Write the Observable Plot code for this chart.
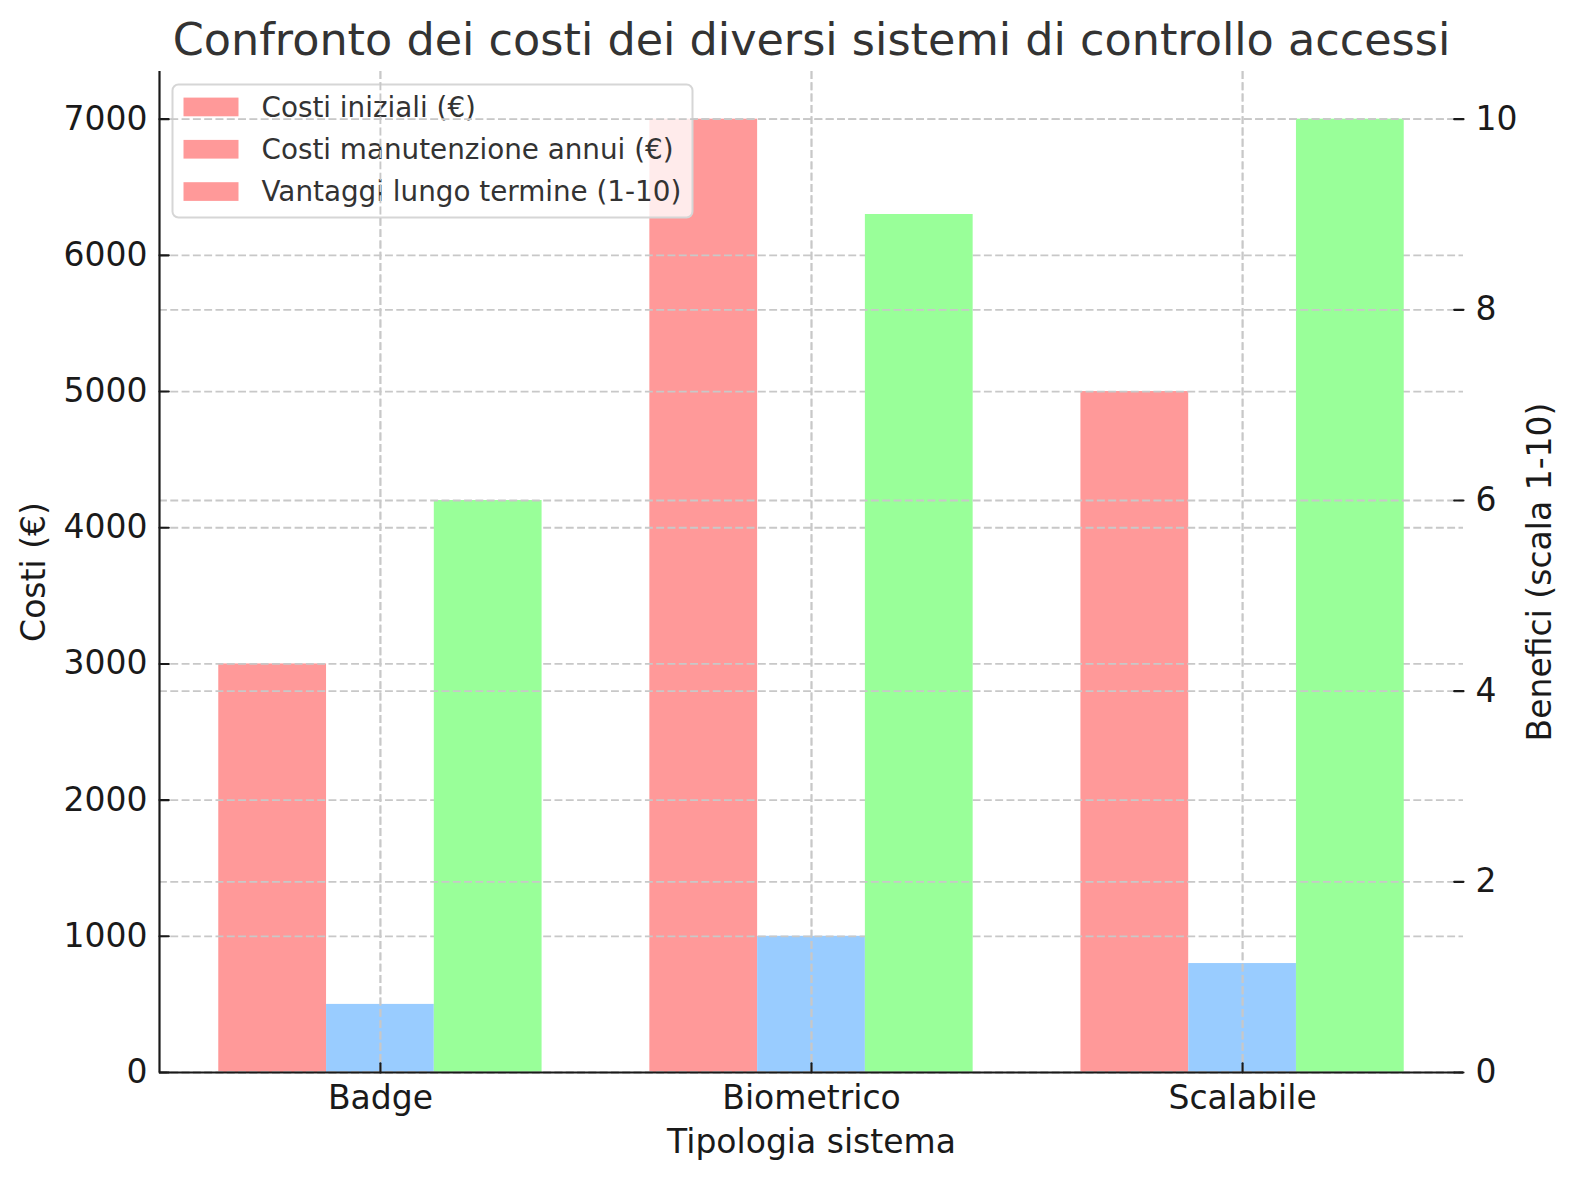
<!DOCTYPE html>
<html>
<head>
<meta charset="utf-8">
<script src="https://cdn.jsdelivr.net/npm/d3@7"></script>
<script src="https://cdn.jsdelivr.net/npm/@observablehq/plot@0.6"></script>
<style>
  body { margin: 0; background: #ffffff; }
  #chart svg { display: block; }
</style>
</head>
<body>
<div id="chart"></div>
<script>
// ---- Data ----
const categories = ["Badge", "Biometrico", "Scalabile"];
const costiIniziali = [3000, 7000, 5000];
const costiManutenzione = [500, 1000, 800];
const vantaggi = [6, 9, 10];
const seriesLabels = ["Costi iniziali (€)", "Costi manutenzione annui (€)", "Vantaggi lungo termine (1-10)"];
const seriesColors = ["#ff9999", "#99ccff", "#99ff99"];
const legendColors = ["#ff9999", "#ff9999", "#ff9999"];
const leftTicks = [0, 1000, 2000, 3000, 4000, 5000, 6000, 7000];
const rightTicks = [0, 2, 4, 6, 8, 10];
const titleText = "Confronto dei costi dei diversi sistemi di controllo accessi";
const xLabel = "Tipologia sistema";
const yLabelLeft = "Costi (€)";
const yLabelRight = "Benefici (scala 1-10)";

// ---- Scales setup ----
const leftMax = 7350;      // 7000 * 1.05
const rightMax = 10.5;     // 10 * 1.05
const k = leftMax / rightMax;
const barWidth = 0.25;
const offsets = [-barWidth, 0, barWidth];
const xDomain = [-0.5125, 2.5125];

function rowsFor(values, s, factor = 1) {
  return values.map((v, i) => ({
    cat: categories[i],
    x1: i + offsets[s] - barWidth / 2,
    x2: i + offsets[s] + barWidth / 2,
    v: v * factor
  }));
}
const redRows = rowsFor(costiIniziali, 0);
const blueRows = rowsFor(costiManutenzione, 1);
const greenRows = rowsFor(vantaggi, 2, k);

const gridStyle = {stroke: "#c8c8c8", strokeOpacity: 1, strokeWidth: 1.8, strokeDasharray: "7.9,3.4"};
const tickShape = {draw(ctx, l) { ctx.moveTo(0, 0); ctx.lineTo(0, -l); }};
const tickStyle = {length: 9.3, anchor: "start", shape: tickShape, stroke: "#1a1a1a", strokeWidth: 2.1};
const textColor = "#1a1a1a";
const fs = 33;

function legendMark(index, scales, values, dims) {
  const g = d3.create("svg:g").attr("text-anchor", "start");
  const x0 = dims.marginLeft + 13.5;
  const y0 = dims.marginTop + 13.5;
  g.append("rect")
    .attr("x", x0).attr("y", y0)
    .attr("width", 520).attr("height", 133)
    .attr("rx", 6).attr("ry", 6)
    .attr("fill", "#ffffff").attr("fill-opacity", 0.8)
    .attr("stroke", "#d6d6d6").attr("stroke-width", 2);
  seriesLabels.forEach((lab, i) => {
    const cy = y0 + 22.5 + i * 42.3;
    g.append("rect")
      .attr("x", x0 + 11).attr("y", cy - 9.4)
      .attr("width", 55).attr("height", 18.7)
      .attr("fill", legendColors[i]);
    g.append("text")
      .attr("x", x0 + 89).attr("y", cy).attr("dy", "0.35em")
      .attr("text-anchor", "start")
      .attr("font-size", 27.8).attr("fill", "#333333")
      .attr("font-family", "DejaVu Sans")
      .text(lab);
  });
  return g.node();
}

const chart = Plot.plot({
  width: 1580,
  height: 1180,
  marginLeft: 159,
  marginRight: 117,
  marginTop: 71,
  marginBottom: 108,
  style: {fontFamily: "DejaVu Sans", background: "#ffffff", color: textColor},
  x: {type: "linear", domain: xDomain, axis: null},
  y: {type: "linear", domain: [0, leftMax], axis: null},
  marks: [
    Plot.rect(redRows, {x1: "x1", x2: "x2", y1: () => 0, y2: "v", fill: seriesColors[0]}),
    Plot.rect(blueRows, {x1: "x1", x2: "x2", y1: () => 0, y2: "v", fill: seriesColors[1]}),
    Plot.gridY(leftTicks, gridStyle),
    Plot.gridX([0, 1, 2], gridStyle),
    legendMark,
    Plot.rect(greenRows, {x1: "x1", x2: "x2", y1: () => 0, y2: "v", fill: seriesColors[2]}),
    Plot.gridY(rightTicks.map(d => d * k), gridStyle),
    Plot.gridX([0, 1, 2], gridStyle),
    // spines
    Plot.ruleY([0], {stroke: "#1a1a1a", strokeWidth: 2.2}),
    Plot.ruleX([xDomain[0]], {y1: () => 0, y2: () => leftMax, stroke: "#1a1a1a", strokeWidth: 2.2}),
    // inward ticks
    Plot.vector(leftTicks, {y: d => d, frameAnchor: "left", rotate: 90, ...tickStyle}),
    Plot.vector(rightTicks, {y: d => d * k, frameAnchor: "right", rotate: -90, ...tickStyle}),
    Plot.vector([0, 1, 2], {x: d => d, frameAnchor: "bottom", rotate: 0, ...tickStyle}),
    // tick labels
    Plot.axisY({anchor: "left", ticks: leftTicks, tickSize: 0, tickPadding: 12, fontSize: fs, label: null, color: textColor, tickFormat: d => String(d)}),
    Plot.axisY({anchor: "right", ticks: rightTicks.map(d => d * k), tickSize: 0, tickPadding: 12, fontSize: fs, label: null, color: textColor, tickFormat: d => String(Math.round(d / k))}),
    Plot.axisX({anchor: "bottom", ticks: [0, 1, 2], tickSize: 0, tickPadding: 12.6, fontSize: fs, label: null, color: textColor, tickFormat: i => categories[i]}),
    // labels & title
    Plot.text([xLabel], {text: d => d, frameAnchor: "bottom", textAnchor: "middle", dy: 70.4, fontSize: fs, fill: textColor, lineAnchor: "middle"}),
    Plot.text([yLabelLeft], {text: d => d, frameAnchor: "left", textAnchor: "middle", dx: -125, rotate: -90, fontSize: fs, fill: textColor, lineAnchor: "middle"}),
    Plot.text([yLabelRight], {text: d => d, frameAnchor: "right", textAnchor: "middle", dx: 77, rotate: -90, fontSize: fs, fill: textColor, lineAnchor: "middle"}),
    Plot.text([titleText], {text: d => d, frameAnchor: "top", textAnchor: "middle", dy: -31, fontSize: 44.5, fill: "#333333", lineAnchor: "middle"})
  ]
});
document.getElementById("chart").appendChild(chart);
</script>
</body>
</html>
